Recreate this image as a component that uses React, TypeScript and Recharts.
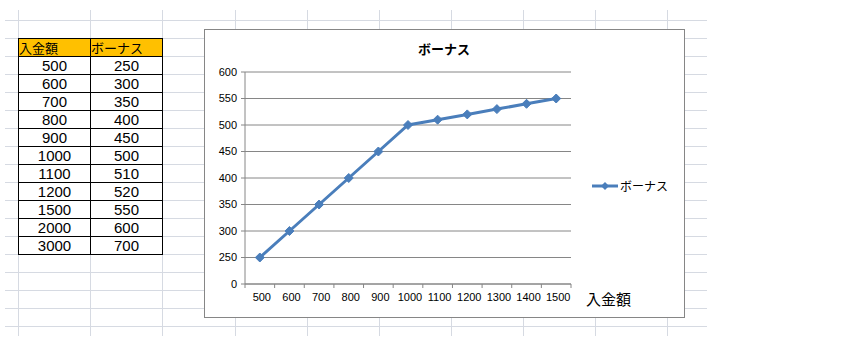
import { LineChart, Line, XAxis, YAxis, CartesianGrid, Legend } from "recharts";

// Excel-style sheet: small data table on the left, line chart on the right.

const deposits = [500, 600, 700, 800, 900, 1000, 1100, 1200, 1500, 2000, 3000];
const bonuses = [250, 300, 350, 400, 450, 500, 510, 520, 550, 600, 700];

const chartCategories = ["500", "600", "700", "800", "900", "1000", "1100", "1200", "1300", "1400", "1500"];
const chartValues = [250, 300, 350, 400, 450, 500, 510, 520, 530, 540, 550];
const yTicks = [200, 250, 300, 350, 400, 450, 500, 550, 600];

const data = chartCategories.map((c, i) => ({ x: c, bonus: chartValues[i] }));

const BLUE = "#4A7EBB";
const AXIS = "#868686";
const SHEET_GRID = "#d6dae2";

const CHART_W = 481;
const CHART_H = 289;
const PLOT_LEFT = 41;
const PLOT_RIGHT = 367;
const PLOT_BOTTOM = 255;
const HALF = (PLOT_RIGHT - PLOT_LEFT) / chartCategories.length / 2;

const rowLines = Array.from({ length: 18 }, (_, i) => 20 + i * 18);
const colLines = [18, 90, 162, 235, 307, 379, 451, 523, 595, 667];

function Diamond(props: any) {
  const { cx, cy } = props;
  if (cx == null || cy == null) return null;
  const r = 4.5;
  return (
    <polygon
      points={`${cx},${cy - r} ${cx + r},${cy} ${cx},${cy + r} ${cx - r},${cy}`}
      fill={BLUE}
      stroke={BLUE}
    />
  );
}

function XTick(props: any) {
  const { x, payload, index } = props;
  const last = index === chartCategories.length - 1;
  return (
    <g>
      <line x1={x - HALF} y1={PLOT_BOTTOM} x2={x - HALF} y2={PLOT_BOTTOM + 4} stroke={AXIS} />
      {last && <line x1={x + HALF} y1={PLOT_BOTTOM} x2={x + HALF} y2={PLOT_BOTTOM + 4} stroke={AXIS} />}
      <text x={x + 2} y={PLOT_BOTTOM + 17} textAnchor="middle" fontSize={11} fill="#000">
        {payload.value}
      </text>
    </g>
  );
}

function LegendBox() {
  return (
    <svg width={100} height={16}>
      <line x1={0} y1={8} x2={26} y2={8} stroke={BLUE} strokeWidth={3} />
      <polygon points="13,4 17,8 13,12 9,8" fill={BLUE} />
      <text x={28} y={12.5} fontSize={12} fill="#000" fontFamily="'Noto Sans CJK JP', sans-serif">
        ボーナス
      </text>
    </svg>
  );
}

const cellStyle: React.CSSProperties = {
  border: "1px solid #000",
  width: 72,
  height: 18,
  padding: 0,
  boxSizing: "border-box",
  fontSize: 15,
  lineHeight: "16px",
  textAlign: "center",
  overflow: "hidden",
  fontFamily: "'Liberation Sans', Arial, sans-serif",
};

const headStyle: React.CSSProperties = {
  ...cellStyle,
  background: "#FFC000",
  textAlign: "left",
  fontSize: 13,
  fontFamily: "'Noto Sans CJK JP', sans-serif",
};

export default function App() {
  return (
    <div
      style={{
        position: "absolute",
        left: 0,
        top: 0,
        width: 866,
        height: 361,
        background: "#fff",
        fontFamily: "'Liberation Sans', Arial, sans-serif",
        overflow: "hidden",
      }}
    >
      <svg width={866} height={361} style={{ position: "absolute", left: 0, top: 0 }}>
        {rowLines.map((y) => (
          <line key={"r" + y} x1={5} y1={y + 0.5} x2={707} y2={y + 0.5} stroke={SHEET_GRID} />
        ))}
        {colLines.map((x) => (
          <line key={"c" + x} x1={x + 0.5} y1={10} x2={x + 0.5} y2={336} stroke={SHEET_GRID} />
        ))}
      </svg>

      <table style={{ position: "absolute", left: 18, top: 38, borderCollapse: "collapse" }}>
        <tbody>
          <tr>
            <td style={headStyle}>入金額</td>
            <td style={headStyle}>ボーナス</td>
          </tr>
          {deposits.map((d, i) => (
            <tr key={d}>
              <td style={cellStyle}>{d}</td>
              <td style={cellStyle}>{bonuses[i]}</td>
            </tr>
          ))}
        </tbody>
      </table>

      <div
        style={{
          position: "absolute",
          left: 204,
          top: 29,
          width: CHART_W,
          height: CHART_H,
          border: `1px solid ${AXIS}`,
          boxSizing: "border-box",
          background: "#fff",
        }}
      >
        <div
          style={{
            position: "absolute",
            left: 0,
            width: 478,
            top: 9,
            textAlign: "center",
            fontSize: 13,
            fontWeight: "bold",
            fontFamily: "'Noto Sans CJK JP', sans-serif",
          }}
        >
          ボーナス
        </div>
        <div
          style={{
            position: "absolute",
            left: 381,
            top: 258,
            fontSize: 15,
            fontFamily: "'Noto Sans CJK JP', sans-serif",
          }}
        >
          入金額
        </div>
        <LineChart
          width={CHART_W - 2}
          height={CHART_H - 2}
          data={data}
          margin={{ top: 43, right: CHART_W - 2 - PLOT_RIGHT, bottom: 0, left: 0 }}
          style={{ position: "absolute", left: -1, top: -1 }}
        >
          <CartesianGrid horizontal vertical={false} stroke={AXIS} />
          <XAxis
            dataKey="x"
            interval={0}
            height={CHART_H - 2 - PLOT_BOTTOM}
            padding={{ left: HALF, right: HALF }}
            stroke={AXIS}
            tickLine={false}
            tick={<XTick />}
          />
          <YAxis
            width={PLOT_LEFT}
            domain={[200, 600]}
            ticks={yTicks}
            interval={0}
            stroke={AXIS}
            tickSize={4}
            tickMargin={4}
            tick={{ fontSize: 11, fill: "#000" }}
            tickFormatter={(v: number) => (v === 200 ? "0" : String(v))}
          />
          <Legend
            layout="horizontal"
            align="center"
            verticalAlign="middle"
            content={<LegendBox />}
            wrapperStyle={{ position: "absolute", left: 388, top: 149, width: 100 }}
          />
          <Line
            type="linear"
            dataKey="bonus"
            name="ボーナス"
            stroke={BLUE}
            strokeWidth={3}
            dot={<Diamond />}
            activeDot={false}
            isAnimationActive={false}
          />
        </LineChart>
      </div>
    </div>
  );
}
